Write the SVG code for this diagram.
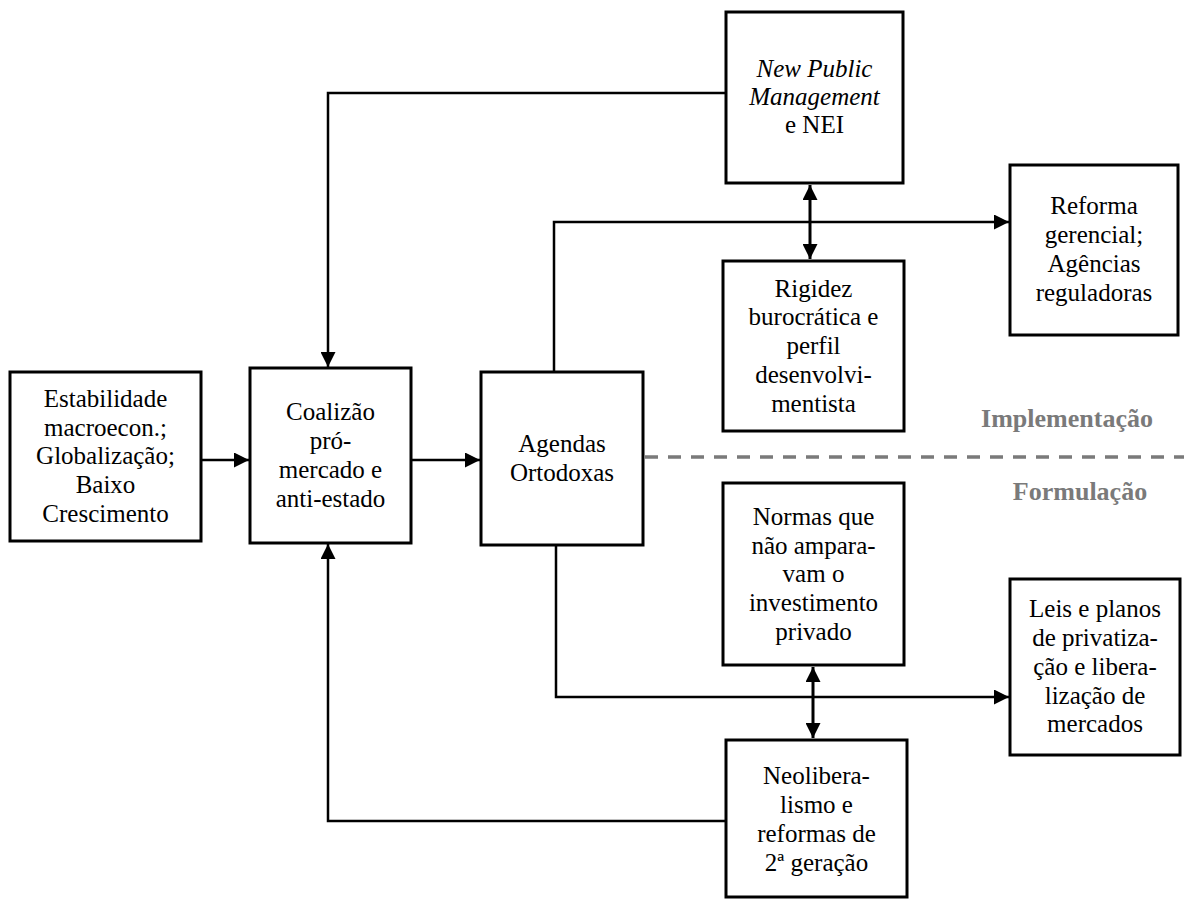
<svg xmlns="http://www.w3.org/2000/svg" width="1184" height="899" viewBox="0 0 1184 899">
  <style>
    .box { fill: #ffffff; stroke: #000000; stroke-width: 3; }
    .lbl { font-family: "Liberation Serif", "Times New Roman", serif; font-size: 25px; fill: #000000; text-anchor: middle; }
    .it { font-style: italic; }
    .link { fill: none; stroke: #000000; stroke-width: 2.5; }
    .dbl { fill: none; stroke: #000000; stroke-width: 3; }
    .phase { font-family: "Liberation Serif", "Times New Roman", serif; font-size: 26px; font-weight: bold; fill: #7a7a7a; text-anchor: middle; }
    .divider { stroke: #7a7a7a; stroke-width: 3.5; stroke-dasharray: 13 10; fill: none; }
  </style>
  <defs>
    <marker id="arrow" viewBox="0 0 15 15" refX="15" refY="7.5" markerWidth="15" markerHeight="15" markerUnits="userSpaceOnUse" orient="auto-start-reverse">
      <path d="M0,0 L15,7.5 L0,15 Z" fill="#000000"/>
    </marker>
  </defs>

  <rect width="1184" height="899" fill="#ffffff"/>

  <!-- phase divider and labels -->
  <g id="phases">
    <line class="divider" x1="645" y1="457" x2="1184" y2="457"/>
    <text class="phase" x="1067" y="427">Implementação</text>
    <text class="phase" x="1080" y="500">Formulação</text>
  </g>

  <!-- connectors -->
  <g id="connectors">
    <line class="link" x1="201" y1="460" x2="249" y2="460" marker-end="url(#arrow)"/>
    <line class="link" x1="411" y1="460" x2="480" y2="460" marker-end="url(#arrow)"/>
    <polyline class="link" points="726,93 328,93 328,367" marker-end="url(#arrow)"/>
    <polyline class="link" points="725,821 328,821 328,544" marker-end="url(#arrow)"/>
    <polyline class="link" points="554,372 554,222 1009,222" marker-end="url(#arrow)"/>
    <polyline class="link" points="556,545 556,697 1009,697" marker-end="url(#arrow)"/>
    <line class="dbl" x1="810" y1="185" x2="810" y2="259" marker-start="url(#arrow)" marker-end="url(#arrow)"/>
    <line class="dbl" x1="813" y1="667" x2="813" y2="738" marker-start="url(#arrow)" marker-end="url(#arrow)"/>
  </g>

  <g id="estabilidade">
    <rect class="box" x="10" y="372" width="191" height="169"/>
    <text class="lbl" x="105.5" y="407">Estabilidade</text>
    <text class="lbl" x="105.5" y="436">macroecon.;</text>
    <text class="lbl" x="105.5" y="464">Globalização;</text>
    <text class="lbl" x="105.5" y="493">Baixo</text>
    <text class="lbl" x="105.5" y="522">Crescimento</text>
  </g>

  <g id="coalizao">
    <rect class="box" x="250" y="368" width="161" height="175"/>
    <text class="lbl" x="330.5" y="420">Coalizão</text>
    <text class="lbl" x="330.5" y="449">pró-</text>
    <text class="lbl" x="330.5" y="478">mercado e</text>
    <text class="lbl" x="330.5" y="507">anti-estado</text>
  </g>

  <g id="agendas">
    <rect class="box" x="481" y="372" width="162" height="173"/>
    <text class="lbl" x="562" y="452">Agendas</text>
    <text class="lbl" x="562" y="481">Ortodoxas</text>
  </g>

  <g id="npm">
    <rect class="box" x="726" y="12" width="177" height="171"/>
    <text class="lbl it" x="814.5" y="77">New Public</text>
    <text class="lbl it" x="814.5" y="105">Management</text>
    <text class="lbl" x="814.5" y="133">e NEI</text>
  </g>

  <g id="rigidez">
    <rect class="box" x="723" y="261" width="181" height="170"/>
    <text class="lbl" x="813.5" y="297">Rigidez</text>
    <text class="lbl" x="813.5" y="325">burocrática e</text>
    <text class="lbl" x="813.5" y="354">perfil</text>
    <text class="lbl" x="813.5" y="383">desenvolvi-</text>
    <text class="lbl" x="813.5" y="412">mentista</text>
  </g>

  <g id="reforma">
    <rect class="box" x="1010" y="165" width="168" height="170"/>
    <text class="lbl" x="1094" y="214">Reforma</text>
    <text class="lbl" x="1094" y="243">gerencial;</text>
    <text class="lbl" x="1094" y="272">Agências</text>
    <text class="lbl" x="1094" y="301">reguladoras</text>
  </g>

  <g id="normas">
    <rect class="box" x="723" y="483" width="181" height="182"/>
    <text class="lbl" x="813.5" y="525">Normas que</text>
    <text class="lbl" x="813.5" y="554">não ampara-</text>
    <text class="lbl" x="813.5" y="582">vam o</text>
    <text class="lbl" x="813.5" y="611">investimento</text>
    <text class="lbl" x="813.5" y="640">privado</text>
  </g>

  <g id="leis">
    <rect class="box" x="1010" y="579" width="170" height="176"/>
    <text class="lbl" x="1095" y="617">Leis e planos</text>
    <text class="lbl" x="1095" y="646">de privatiza-</text>
    <text class="lbl" x="1095" y="675">ção e libera-</text>
    <text class="lbl" x="1095" y="704">lização de</text>
    <text class="lbl" x="1095" y="732">mercados</text>
  </g>

  <g id="neoliberalismo">
    <rect class="box" x="726" y="740" width="181" height="157"/>
    <text class="lbl" x="816.5" y="784">Neolibera-</text>
    <text class="lbl" x="816.5" y="813">lismo e</text>
    <text class="lbl" x="816.5" y="842">reformas de</text>
    <text class="lbl" x="816.5" y="871">2ª geração</text>
  </g>
</svg>
